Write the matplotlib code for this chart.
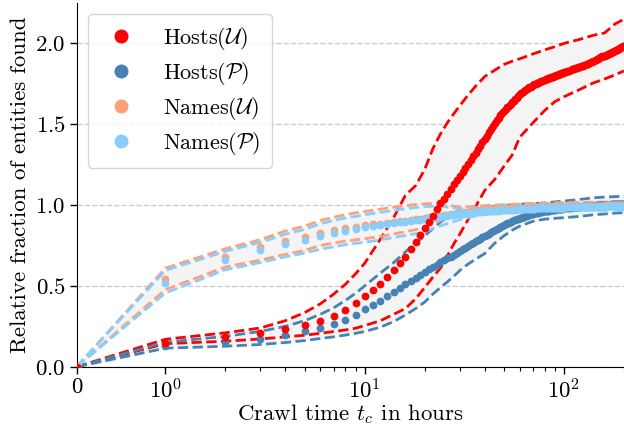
import matplotlib
matplotlib.use("Agg")
import matplotlib.pyplot as plt
from matplotlib.ticker import FixedLocator, NullFormatter

plt.rcParams['font.family'] = 'serif'
plt.rcParams['font.serif'] = ['cmr10']
plt.rcParams['mathtext.fontset'] = 'cm'
plt.rcParams['axes.formatter.use_mathtext'] = True
plt.rcParams['axes.unicode_minus'] = False

# hours at which the mean values are drawn (hourly, then every 2 h)
hours = list(range(0, 101)) + list(range(102, 201, 2))

hosts_u = [0.0, 0.15, 0.184, 0.209, 0.232, 0.257, 0.284, 0.317, 0.353, 0.393, 0.44,
           0.475, 0.511, 0.557, 0.6, 0.642, 0.681, 0.728, 0.772, 0.818, 0.858,
           0.895, 0.935, 0.975, 1.01, 1.04, 1.07, 1.1, 1.128, 1.155, 1.18,
           1.205, 1.23, 1.255, 1.28, 1.302, 1.325, 1.345, 1.368, 1.39, 1.41,
           1.43, 1.45, 1.47, 1.49, 1.508, 1.525, 1.54, 1.555, 1.568, 1.58,
           1.593, 1.605, 1.615, 1.625, 1.635, 1.645, 1.655, 1.665, 1.675, 1.685,
           1.692, 1.7, 1.706, 1.712, 1.718, 1.723, 1.728, 1.733, 1.738, 1.742,
           1.746, 1.75, 1.754, 1.757, 1.76, 1.763, 1.766, 1.769, 1.772, 1.775,
           1.778, 1.78, 1.783, 1.785, 1.788, 1.79, 1.793, 1.795, 1.798, 1.8,
           1.802, 1.804, 1.806, 1.808, 1.81, 1.813, 1.815, 1.817, 1.819, 1.821,
           1.825, 1.828, 1.832, 1.836, 1.84, 1.843, 1.846, 1.85, 1.853, 1.856,
           1.859, 1.862, 1.866, 1.869, 1.872, 1.875, 1.878, 1.882, 1.886, 1.89,
           1.894, 1.898, 1.902, 1.906, 1.91, 1.913, 1.916, 1.919, 1.922, 1.925,
           1.928, 1.931, 1.934, 1.937, 1.94, 1.943, 1.946, 1.949, 1.952, 1.955,
           1.958, 1.961, 1.964, 1.967, 1.97, 1.973, 1.976, 1.979, 1.982, 1.985]

hosts_p = [0.0, 0.13, 0.155, 0.172, 0.196, 0.219, 0.242, 0.266, 0.291, 0.323, 0.358,
           0.384, 0.408, 0.438, 0.462, 0.49, 0.515, 0.533, 0.552, 0.568, 0.584,
           0.602, 0.618, 0.632, 0.645, 0.658, 0.67, 0.682, 0.694, 0.705, 0.716,
           0.727, 0.737, 0.747, 0.757, 0.766, 0.775, 0.784, 0.793, 0.801, 0.809,
           0.817, 0.824, 0.831, 0.838, 0.846, 0.855, 0.861, 0.867, 0.872, 0.877,
           0.882, 0.887, 0.892, 0.896, 0.9, 0.905, 0.909, 0.913, 0.917, 0.92,
           0.923, 0.926, 0.929, 0.932, 0.935, 0.937, 0.94, 0.942, 0.944, 0.946,
           0.948, 0.95, 0.952, 0.953, 0.955, 0.956, 0.958, 0.959, 0.961, 0.962,
           0.963, 0.964, 0.965, 0.966, 0.967, 0.968, 0.969, 0.97, 0.971, 0.972,
           0.973, 0.974, 0.975, 0.976, 0.976, 0.977, 0.977, 0.978, 0.979, 0.98,
           0.981, 0.982, 0.983, 0.984, 0.986, 0.987, 0.988, 0.988, 0.989, 0.99,
           0.991, 0.992, 0.992, 0.993, 0.994, 0.994, 0.995, 0.995, 0.996, 0.997,
           0.997, 0.998, 0.998, 0.999, 0.999, 1.0, 1.0, 1.0, 1.001, 1.001,
           1.002, 1.002, 1.002, 1.003, 1.003, 1.004, 1.004, 1.004, 1.005, 1.005,
           1.006, 1.006, 1.006, 1.007, 1.007, 1.008, 1.008, 1.008, 1.009, 1.009]

names_u = [0.0, 0.545, 0.68, 0.741, 0.78, 0.805, 0.826, 0.843, 0.856, 0.866, 0.875,
           0.881, 0.886, 0.891, 0.896, 0.9, 0.904, 0.908, 0.912, 0.916, 0.92,
           0.924, 0.928, 0.931, 0.934, 0.937, 0.94, 0.943, 0.946, 0.949, 0.951,
           0.953, 0.955, 0.957, 0.959, 0.961, 0.963, 0.965, 0.967, 0.969, 0.971,
           0.972, 0.973, 0.974, 0.975, 0.975, 0.976, 0.976, 0.977, 0.977, 0.978,
           0.978, 0.979, 0.979, 0.98, 0.98, 0.981, 0.981, 0.982, 0.982, 0.983,
           0.983, 0.984, 0.984, 0.984, 0.985, 0.985, 0.985, 0.986, 0.986, 0.986,
           0.986, 0.987, 0.987, 0.987, 0.987, 0.988, 0.988, 0.988, 0.988, 0.988,
           0.988, 0.989, 0.989, 0.989, 0.989, 0.989, 0.989, 0.99, 0.99, 0.99,
           0.99, 0.99, 0.99, 0.99, 0.991, 0.991, 0.991, 0.991, 0.991, 0.991,
           0.992, 0.992, 0.992, 0.992, 0.992, 0.993, 0.993, 0.993, 0.993, 0.993,
           0.994, 0.994, 0.994, 0.994, 0.994, 0.995, 0.995, 0.995, 0.995, 0.995,
           0.996, 0.996, 0.996, 0.996, 0.996, 0.997, 0.997, 0.997, 0.997, 0.997,
           0.998, 0.998, 0.998, 0.998, 0.998, 0.999, 0.999, 0.999, 0.999, 0.999,
           1.0, 1.0, 1.0, 1.0, 1.0, 1.001, 1.001, 1.001, 1.001, 1.001]

names_p = [0.0, 0.52, 0.66, 0.72, 0.76, 0.784, 0.806, 0.826, 0.842, 0.854, 0.864,
           0.872, 0.879, 0.885, 0.89, 0.894, 0.898, 0.902, 0.906, 0.91, 0.914,
           0.918, 0.922, 0.925, 0.928, 0.931, 0.934, 0.937, 0.94, 0.942, 0.944,
           0.946, 0.948, 0.95, 0.952, 0.954, 0.956, 0.958, 0.96, 0.961, 0.962,
           0.963, 0.964, 0.964, 0.965, 0.965, 0.966, 0.966, 0.967, 0.967, 0.968,
           0.968, 0.969, 0.969, 0.97, 0.971, 0.972, 0.972, 0.973, 0.974, 0.975,
           0.975, 0.976, 0.976, 0.976, 0.977, 0.977, 0.977, 0.978, 0.978, 0.978,
           0.978, 0.979, 0.979, 0.979, 0.979, 0.98, 0.98, 0.98, 0.98, 0.98,
           0.981, 0.981, 0.981, 0.981, 0.982, 0.982, 0.982, 0.982, 0.983, 0.983,
           0.983, 0.983, 0.984, 0.984, 0.984, 0.984, 0.985, 0.985, 0.985, 0.985,
           0.986, 0.986, 0.986, 0.986, 0.986, 0.987, 0.987, 0.987, 0.987, 0.987,
           0.988, 0.988, 0.988, 0.988, 0.988, 0.989, 0.989, 0.989, 0.989, 0.989,
           0.99, 0.99, 0.99, 0.99, 0.99, 0.991, 0.991, 0.991, 0.991, 0.991,
           0.992, 0.992, 0.992, 0.992, 0.992, 0.993, 0.993, 0.993, 0.993, 0.993,
           0.994, 0.994, 0.994, 0.994, 0.994, 0.995, 0.995, 0.995, 0.995, 0.995]

# hours at which the spread (dashed bounds) is drawn
bound_hours = [0, 1, 2, 3, 4, 5, 6, 7, 8, 9, 10, 12, 14, 16, 18, 20, 22, 24, 26, 28, 30,
               33, 36, 40, 45, 50, 55, 60, 70, 80, 90, 100, 120, 140, 160, 180, 200]

hosts_u_hi = [0, 0.17, 0.21, 0.24, 0.285, 0.335, 0.39, 0.45, 0.51, 0.575, 0.64, 0.79,
              0.925, 1.06, 1.12, 1.22, 1.35, 1.44, 1.51, 1.565, 1.615, 1.68, 1.735,
              1.795, 1.835, 1.87, 1.89, 1.905, 1.935, 1.96, 1.98, 2.0, 2.025, 2.05,
              2.065, 2.12, 2.15]
hosts_u_lo = [0, 0.143, 0.158, 0.172, 0.185, 0.195, 0.207, 0.218, 0.228, 0.238, 0.255,
              0.285, 0.325, 0.36, 0.42, 0.49, 0.555, 0.61, 0.685, 0.76, 0.82, 0.91,
              0.99, 1.09, 1.16, 1.24, 1.31, 1.42, 1.51, 1.585, 1.64, 1.67, 1.715,
              1.755, 1.78, 1.805, 1.83]
hosts_p_hi = [0, 0.152, 0.188, 0.219, 0.25, 0.285, 0.325, 0.365, 0.41, 0.455, 0.5, 0.58,
              0.645, 0.71, 0.765, 0.81, 0.855, 0.895, 0.925, 0.945, 0.955, 0.965,
              0.975, 0.985, 0.993, 0.998, 1.002, 1.005, 1.01, 1.013, 1.02, 1.025,
              1.035, 1.045, 1.05, 1.052, 1.055]
hosts_p_lo = [0, 0.115, 0.127, 0.138, 0.15, 0.162, 0.175, 0.185, 0.196, 0.207, 0.218,
              0.245, 0.28, 0.32, 0.36, 0.4, 0.45, 0.49, 0.525, 0.56, 0.595, 0.635,
              0.665, 0.7, 0.765, 0.81, 0.845, 0.87, 0.9, 0.913, 0.918, 0.922, 0.93,
              0.94, 0.945, 0.95, 0.953]
names_u_hi = [0, 0.61, 0.73, 0.786, 0.84, 0.87, 0.905, 0.925, 0.94, 0.952, 0.96, 0.975,
              0.987, 0.996, 1.003, 1.008, 1.01, 1.006, 1.0, 0.993, 0.99, 0.99, 0.993,
              0.997, 1.0, 1.003, 1.005, 1.007, 1.01, 1.012, 1.014, 1.015, 1.017,
              1.018, 1.019, 1.02, 1.02]
names_u_lo = [0, 0.477, 0.617, 0.66, 0.695, 0.72, 0.75, 0.765, 0.777, 0.785, 0.792,
              0.806, 0.822, 0.835, 0.848, 0.865, 0.885, 0.905, 0.918, 0.928, 0.94,
              0.952, 0.962, 0.968, 0.972, 0.974, 0.975, 0.976, 0.977, 0.978, 0.979,
              0.98, 0.981, 0.982, 0.983, 0.984, 0.985]
names_p_hi = [0, 0.596, 0.714, 0.77, 0.82, 0.85, 0.885, 0.905, 0.92, 0.93, 0.94, 0.955,
              0.967, 0.977, 0.985, 0.99, 0.993, 0.993, 0.988, 0.982, 0.978, 0.978,
              0.982, 0.987, 0.992, 0.995, 0.998, 1.0, 1.003, 1.005, 1.007, 1.008,
              1.01, 1.011, 1.012, 1.013, 1.013]
names_p_lo = [0, 0.456, 0.6, 0.645, 0.68, 0.703, 0.727, 0.742, 0.755, 0.763, 0.77,
              0.785, 0.8, 0.812, 0.823, 0.835, 0.855, 0.872, 0.885, 0.898, 0.91,
              0.922, 0.933, 0.942, 0.948, 0.952, 0.955, 0.957, 0.96, 0.962, 0.964,
              0.965, 0.967, 0.968, 0.969, 0.97, 0.97]

series = [
    (r'Hosts($\mathcal{U}$)', hosts_u, hosts_u_lo, hosts_u_hi, 'red'),
    (r'Hosts($\mathcal{P}$)', hosts_p, hosts_p_lo, hosts_p_hi, 'steelblue'),
    (r'Names($\mathcal{U}$)', names_u, names_u_lo, names_u_hi, 'lightsalmon'),
    (r'Names($\mathcal{P}$)', names_p, names_p_lo, names_p_hi, 'lightskyblue'),
]

fig, ax = plt.subplots(figsize=(6.24, 4.25), dpi=100)
fig.subplots_adjust(left=0.123, right=1.0, bottom=0.137, top=0.993)

for label, mean, lo, hi, color in series:
    ax.fill_between(bound_hours, lo, hi, color='#f4f4f4', lw=0, zorder=1)
for label, mean, lo, hi, color in series:
    ax.plot(bound_hours, lo, ls='--', lw=2, color=color, zorder=2)
    ax.plot(bound_hours, hi, ls='--', lw=2, color=color, zorder=2)

handles = {}
for i in [1, 2, 3, 0]:
    label, mean, lo, hi, color = series[i]
    h, = ax.plot(hours, mean, 'o', ms=5.6, mew=0, color=color, label=label, zorder=3)
    handles[i] = h

ax.set_xscale('symlog', linthresh=1, linscale=0.4)
ax.set_xlim(0, 200)
ax.set_ylim(0, 2.25)
ax.xaxis.set_minor_locator(FixedLocator([2, 3, 4, 5, 6, 7, 8, 9,
                                         20, 30, 40, 50, 60, 70, 80, 90, 200]))
ax.xaxis.set_minor_formatter(NullFormatter())
ax.set_yticks([0, 0.5, 1.0, 1.5, 2.0])

ax.grid(axis='y', ls='--', color='#cccccc', lw=1)
ax.set_axisbelow(True)
for s in ['top', 'right']:
    ax.spines[s].set_visible(False)
ax.tick_params(labelsize=16.5, length=5, width=1, pad=3)
ax.tick_params(which='minor', length=3, width=0.8)

ax.set_xlabel(r'Crawl time $t_c$ in hours', fontsize=16.5, labelpad=0)
ax.set_ylabel('Relative fraction of entities found', fontsize=16.5, labelpad=4)

ax.legend([handles[i] for i in range(4)], [s[0] for s in series],
          loc='upper left', bbox_to_anchor=(0.0, 1.0), fontsize=16,
          markerscale=1.8, handletextpad=0.9, borderpad=0.5, labelspacing=0.35)

fig.savefig('out.png', dpi=100)
